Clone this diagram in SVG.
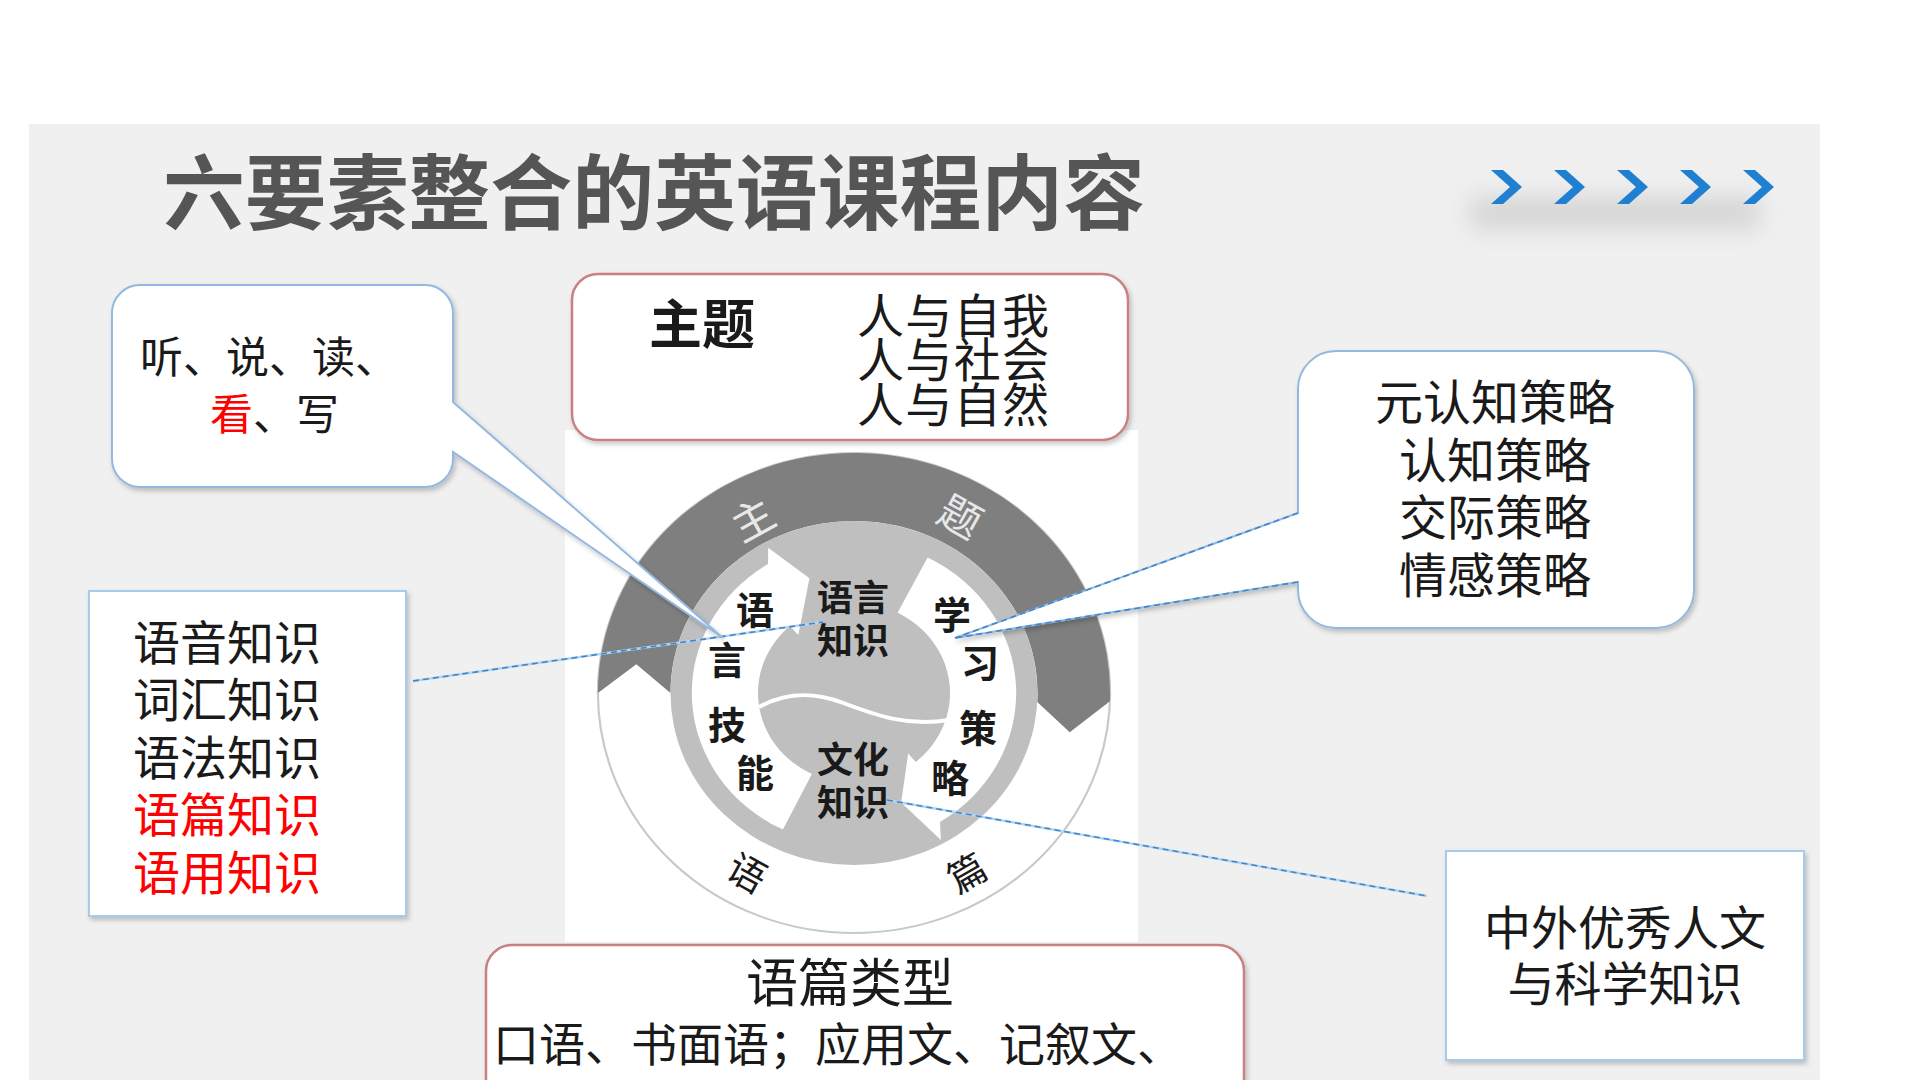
<svg xmlns="http://www.w3.org/2000/svg" width="1920" height="1080" viewBox="0 0 1920 1080">
<style>
.t{font-family:"Noto Sans CJK SC","Noto Sans",sans-serif;fill:#1a1a1a}
.b{font-weight:700}
.red{fill:#ff0000}
.callout{fill:#ffffff;stroke:#93b9e0;stroke-width:2;filter:url(#sh)}
.rbox{fill:#ffffff;stroke:#c88080;stroke-width:2.5;filter:url(#sh)}
.sbox{fill:#ffffff;stroke:#a9cbea;stroke-width:2;filter:url(#sh)}
.cl{stroke:#b5d4f0;stroke-width:2.5;fill:none}
.cd{stroke:#3f86cc;stroke-width:1.6;stroke-dasharray:6 4;fill:none}
.chev{fill:#1f80d2}
.ring{font-size:38px;font-weight:700;text-anchor:middle}
.ctr{font-size:36px;font-weight:700;text-anchor:middle}
</style>
<defs>
<filter id="sh" x="-10%" y="-10%" width="130%" height="130%">
<feDropShadow dx="2" dy="3" stdDeviation="2.5" flood-color="#000" flood-opacity="0.22"/>
</filter>
<filter id="blur" x="-20%" y="-80%" width="140%" height="260%">
<feGaussianBlur stdDeviation="12"/>
</filter>
<linearGradient id="ul" x1="0" y1="0" x2="1" y2="0">
<stop offset="0" stop-color="#d6d6d6"/>
<stop offset="0.5" stop-color="#a9a9a9"/>
<stop offset="1" stop-color="#c4c4c4"/>
</linearGradient>
</defs>

<rect x="0" y="0" width="1920" height="1080" fill="#ffffff"/>
<rect x="29" y="124" width="1791" height="956" fill="#f0f0f0"/>

<g id="title">
<rect x="1470" y="196" width="290" height="34" fill="#9a9a9a" opacity="0.3" filter="url(#blur)"/>
<text class="t b" x="163" y="223" font-size="82" textLength="982" lengthAdjust="spacingAndGlyphs" style="fill:#555555">六要素整合的英语课程内容</text>
<line x1="184" y1="241" x2="1820" y2="241" stroke="url(#ul)" stroke-width="3"/>
<polygon class="chev" points="1491,170 1503,170 1522,187 1503,204 1491,204 1510,187"/>
<polygon class="chev" points="1554,170 1566,170 1585,187 1566,204 1554,204 1573,187"/>
<polygon class="chev" points="1617,170 1629,170 1648,187 1629,204 1617,204 1636,187"/>
<polygon class="chev" points="1680,170 1692,170 1711,187 1692,204 1680,204 1699,187"/>
<polygon class="chev" points="1743,170 1755,170 1774,187 1755,204 1743,204 1762,187"/>
</g>

<rect id="circle-panel" x="565" y="430" width="573" height="512" fill="#ffffff"/>

<g id="cycle">
<g transform="translate(854,693) scale(1.067,1)">
<circle cx="0" cy="0" r="240" fill="none" stroke="#c8c8c8" stroke-width="2"/>
<path d="M -240,0 A 240 240 0 1 1 239.85,8.37 L 202.2,39.3 L 171.76,9 A 172 172 0 1 0 -172,0 L -204,-28.67 Z" fill="#7f7f7f"/>
<circle cx="0" cy="0" r="172" fill="#bfbfbf"/>
<path d="M -39.45,80.89 L -66.63,136.62 A 152 152 0 0 1 -80.55,-128.9 L -80.48,-145.19 L -41.73,-114.64 L -52.19,-57.96 L -60.22,-66.88 A 90 90 0 0 0 -39.45,80.89 Z" fill="#ffffff"/>
<path d="M 40.86,-80.19 L 69.01,-135.43 A 152 152 0 0 1 80.55,128.9 L 81.45,146.94 L 44.2,109.41 L 50.78,60.52 L 57.85,68.94 A 90 90 0 0 0 40.86,-80.19 Z" fill="#ffffff"/>
<path d="M -89,14 C -65,0 -40,-2 -10,10 C 20,22 50,34 89,27" fill="none" stroke="#ffffff" stroke-width="4"/>
</g>
<text class="t" transform="translate(753,520) rotate(-29)" x="0" y="15" font-size="42" text-anchor="middle" style="fill:#e8e8e8">主</text>
<text class="t" transform="translate(960,517) rotate(29)" x="0" y="15" font-size="42" text-anchor="middle" style="fill:#e8e8e8">题</text>
<text class="t" transform="translate(747,873) rotate(29)" x="0" y="14" font-size="38" text-anchor="middle">语</text>
<text class="t" transform="translate(967,873) rotate(-30)" x="0" y="14" font-size="38" text-anchor="middle">篇</text>
<text class="t ring" x="755" y="624">语</text>
<text class="t ring" x="727" y="674">言</text>
<text class="t ring" x="727" y="739">技</text>
<text class="t ring" x="755" y="787">能</text>
<text class="t ring" x="952" y="629">学</text>
<text class="t ring" x="980" y="677">习</text>
<text class="t ring" x="978" y="742">策</text>
<text class="t ring" x="950" y="792">略</text>
<text class="t ctr" x="853" y="611">语言</text>
<text class="t ctr" x="853" y="654">知识</text>
<text class="t ctr" x="853" y="773">文化</text>
<text class="t ctr" x="853" y="816">知识</text>
</g>

<g id="connectors">
<line class="cl" x1="413" y1="681" x2="823" y2="622"/>
<line class="cd" x1="413" y1="681" x2="823" y2="622"/>
<line class="cl" x1="887" y1="800" x2="1427" y2="896"/>
<line class="cd" x1="887" y1="800" x2="1427" y2="896"/>
</g>

<g id="callout-skills">
<path class="callout" d="M 140,285 H 425 A 28 28 0 0 1 453,313 V 402 L 723,638 L 453,452 V 459 A 28 28 0 0 1 425,487 H 140 A 28 28 0 0 1 112,459 V 313 A 28 28 0 0 1 140,285 Z"/>
<text class="t" x="140" y="373" font-size="43">听、说、读、</text>
<text class="t" x="210" y="430" font-size="43"><tspan class="red">看</tspan>、写</text>
</g>

<g id="theme-box">
<rect class="rbox" x="572" y="274" width="556" height="166" rx="26" ry="26"/>
<text class="t b" x="649" y="344" font-size="53">主题</text>
<text class="t" x="857" y="333" font-size="47" textLength="192">人与自我</text>
<text class="t" x="857" y="377" font-size="47" textLength="192">人与社会</text>
<text class="t" x="857" y="422" font-size="47" textLength="192">人与自然</text>
</g>

<g id="callout-strategies">
<path class="callout" d="M 1336,351 H 1656 A 38 38 0 0 1 1694,389 V 590 A 38 38 0 0 1 1656,628 H 1336 A 38 38 0 0 1 1298,590 V 582 L 955,638 L 1298,513 V 389 A 38 38 0 0 1 1336,351 Z"/>
<line class="cd" x1="1298" y1="513" x2="955" y2="638"/>
<line class="cd" x1="1298" y1="582" x2="955" y2="638"/>
<text class="t" x="1495" y="420" font-size="48" text-anchor="middle">元认知策略</text>
<text class="t" x="1495" y="478" font-size="48" text-anchor="middle">认知策略</text>
<text class="t" x="1495" y="535" font-size="48" text-anchor="middle">交际策略</text>
<text class="t" x="1495" y="593" font-size="48" text-anchor="middle">情感策略</text>
</g>

<g id="box-knowledge">
<rect class="sbox" x="89" y="591" width="317" height="325"/>
<text class="t" x="133" y="660" font-size="47">语音知识</text>
<text class="t" x="133" y="717" font-size="47">词汇知识</text>
<text class="t" x="133" y="775" font-size="47">语法知识</text>
<text class="t red" x="133" y="832" font-size="47">语篇知识</text>
<text class="t red" x="133" y="890" font-size="47">语用知识</text>
</g>

<g id="box-culture">
<rect class="sbox" x="1446" y="851" width="358" height="209"/>
<text class="t" x="1625" y="945" font-size="47" text-anchor="middle">中外优秀人文</text>
<text class="t" x="1625" y="1001" font-size="47" text-anchor="middle">与科学知识</text>
</g>

<g id="box-genre">
<rect class="rbox" x="486" y="945" width="758" height="170" rx="26" ry="26"/>
<text class="t" x="850" y="1002" font-size="52" text-anchor="middle">语篇类型</text>
<text class="t" x="493" y="1061" font-size="46">口语、书面语；应用文、记叙文、</text>
</g>
</svg>
